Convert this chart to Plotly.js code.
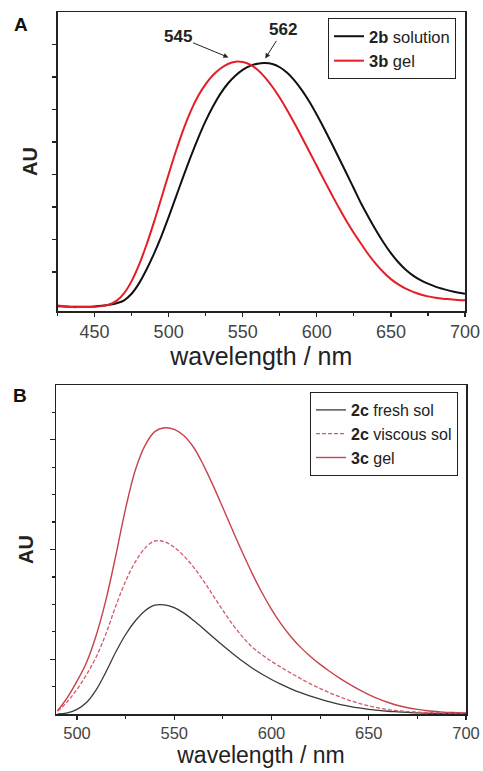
<!DOCTYPE html>
<html>
<head>
<meta charset="utf-8">
<script src="https://cdn.plot.ly/plotly-3.0.1.min.js"></script>
<style>html,body{margin:0;padding:0;background:#fff;}#chart{width:483px;height:771px;}</style>
</head>
<body>
<div id="chart"></div>
<script>
// ---- Panel A data (wavelength in nm, intensity in arbitrary units) ----
const wlA = [425,430,435,440,445,450,455,460,465,470,475,480,485,490,495,500,505,510,515,520,525,530,535,540,545,550,555,560,565,570,575,580,585,590,595,600,605,610,615,620,625,630,635,640,645,650,655,660,665,670,675,680,685,690,695,700];
const solution2b = [-0.05,-0.06,-0.07,-0.07,-0.07,-0.06,-0.04,-0.01,0.04,0.13,0.33,0.65,1.07,1.55,2.09,2.69,3.32,3.95,4.56,5.13,5.65,6.10,6.49,6.80,7.04,7.22,7.34,7.41,7.43,7.40,7.30,7.13,6.89,6.59,6.24,5.84,5.41,4.96,4.50,4.04,3.57,3.10,2.68,2.28,1.91,1.58,1.30,1.07,0.89,0.75,0.64,0.55,0.48,0.42,0.37,0.33];
const gel3b = [-0.03,-0.06,-0.08,-0.08,-0.08,-0.07,-0.05,0.0,0.12,0.35,0.72,1.22,1.83,2.52,3.26,4.01,4.73,5.39,5.96,6.42,6.78,7.06,7.26,7.40,7.47,7.46,7.38,7.22,6.99,6.70,6.36,5.98,5.57,5.14,4.70,4.26,3.82,3.39,2.97,2.57,2.20,1.86,1.53,1.24,0.99,0.78,0.62,0.49,0.39,0.31,0.25,0.21,0.18,0.16,0.14,0.13];
const namesA = ['<b>2b</b> solution','<b>3b</b> gel'];
const ticksA = [450,500,550,600,650,700];
const peakLabels = ['545','562'];
const peakWl = [541.6,564.5];
const peakVal = [7.58,7.52];
const labelWl = [506.0,577.4];
const labelVal = [8.25,8.45];

// ---- Panel B data ----
const wlB = [490,495,500,505,510,515,520,525,530,535,540,545,550,555,560,565,570,575,580,585,590,595,600,605,610,615,620,625,630,635,640,645,650,655,660,665,670,675,680,685,690,695,700];
const fresh2c = [0.0,0.04,0.17,0.43,0.9,1.55,2.27,2.9,3.4,3.77,3.97,3.98,3.88,3.68,3.41,3.11,2.8,2.5,2.21,1.93,1.68,1.46,1.26,1.08,0.92,0.78,0.65,0.54,0.44,0.35,0.28,0.22,0.17,0.13,0.1,0.08,0.06,0.04,0.03,0.02,0.02,0.01,0.01];
const viscous2c = [0.1,0.45,0.9,1.45,2.1,2.95,3.95,4.85,5.55,6.05,6.31,6.28,6.08,5.76,5.35,4.86,4.32,3.78,3.27,2.82,2.45,2.17,1.92,1.7,1.49,1.29,1.1,0.93,0.77,0.63,0.5,0.39,0.3,0.22,0.16,0.12,0.09,0.07,0.05,0.04,0.03,0.02,0.02];
const gel3c = [0.12,0.6,1.2,1.9,2.9,4.2,5.8,7.5,8.9,9.8,10.3,10.44,10.38,10.15,9.72,9.08,8.33,7.52,6.70,5.90,5.14,4.44,3.82,3.28,2.82,2.43,2.10,1.81,1.55,1.31,1.09,0.89,0.71,0.55,0.42,0.31,0.23,0.17,0.12,0.09,0.06,0.05,0.04];
const namesB = ['<b>2c</b> fresh sol','<b>2c</b> viscous sol','<b>3c</b> gel'];
const ticksB = [500,550,600,650,700];

const FONT = 'Liberation Sans, Arial, sans-serif';
const W = 483, H = 771;
const px = v => v / W;
const py = v => 1 - v / H;

const traces = [
  {x: wlA, y: solution2b, name: namesA[0], type: 'scatter', mode: 'lines', line: {color: '#111111', width: 2, shape: 'spline', smoothing: 1}, xaxis: 'x', yaxis: 'y', legend: 'legend'},
  {x: wlA, y: gel3b, name: namesA[1], type: 'scatter', mode: 'lines', line: {color: '#e31e26', width: 2, shape: 'spline', smoothing: 1}, xaxis: 'x', yaxis: 'y', legend: 'legend'},
  {x: wlB, y: fresh2c, name: namesB[0], type: 'scatter', mode: 'lines', line: {color: '#3a3a3a', width: 1.3, shape: 'spline', smoothing: 1}, xaxis: 'x2', yaxis: 'y2', legend: 'legend2'},
  {x: wlB, y: viscous2c, name: namesB[1], type: 'scatter', mode: 'lines', line: {color: '#d35a68', width: 1.3, dash: '4px,2px', shape: 'spline', smoothing: 1}, xaxis: 'x2', yaxis: 'y2', legend: 'legend2'},
  {x: wlB, y: gel3c, name: namesB[2], type: 'scatter', mode: 'lines', line: {color: '#c8424a', width: 1.4, shape: 'spline', smoothing: 1}, xaxis: 'x2', yaxis: 'y2', legend: 'legend2'}
];

const axisCommon = {
  showline: true, linecolor: '#222', linewidth: 1.5, mirror: true,
  showgrid: false, zeroline: false, ticks: 'outside', tickcolor: '#222', ticklen: 4, tickwidth: 1.2
};

const annotations = [
  {text: '<b>A</b>', xref: 'paper', yref: 'paper', x: px(21), y: py(24), xanchor: 'center', yanchor: 'middle', showarrow: false, font: {family: FONT, size: 19, color: '#111'}},
  {text: '<b>B</b>', xref: 'paper', yref: 'paper', x: px(20), y: py(396), xanchor: 'center', yanchor: 'middle', showarrow: false, font: {family: FONT, size: 19, color: '#111'}}
];
for (let i = 0; i < peakLabels.length; i++) {
  annotations.push({
    text: '<b>' + peakLabels[i] + '</b>', xref: 'x', yref: 'y', x: peakWl[i], y: peakVal[i],
    axref: 'x', ayref: 'y', ax: labelWl[i], ay: labelVal[i],
    showarrow: true, arrowhead: 2, arrowsize: 1, arrowwidth: 1, arrowcolor: '#222', standoff: 2,
    font: {family: FONT, size: 17, color: '#222'}
  });
}

const layout = {
  width: W, height: H,
  margin: {l: 0, r: 0, t: 0, b: 0},
  paper_bgcolor: '#fff', plot_bgcolor: '#fff',
  font: {family: FONT, color: '#333'},
  xaxis: Object.assign({}, axisCommon, {
    domain: [px(57.5), px(465)], anchor: 'y', range: [425, 700], tickvals: ticksA,
    minor: {dtick: 25, tick0: 425, ticks: 'outside', ticklen: 3, tickcolor: '#222'},
    tickfont: {family: FONT, size: 18, color: '#444'},
    title: {text: 'wavelength / nm', font: {family: FONT, size: 25, color: '#222'}, standoff: 0}
  }),
  yaxis: Object.assign({}, axisCommon, {
    domain: [py(311), py(12)], anchor: 'x', range: [-0.2, 9], tickvals: [1,2,3,4,5,6,7,8], showticklabels: false,
    title: {text: '<b>AU</b>', font: {family: FONT, size: 20, color: '#222'}, standoff: 9}
  }),
  xaxis2: Object.assign({}, axisCommon, {
    domain: [px(56), px(466)], anchor: 'y2', range: [489.2, 700], tickvals: ticksB,
    minor: {dtick: 25, tick0: 500, ticks: 'outside', ticklen: 3, tickcolor: '#222'},
    tickfont: {family: FONT, size: 16.5, color: '#444'},
    title: {text: 'wavelength / nm', font: {family: FONT, size: 23, color: '#222'}, standoff: 2}
  }),
  yaxis2: Object.assign({}, axisCommon, {
    domain: [py(714), py(385)], anchor: 'x2', range: [0, 12], tickvals: [2,6,10], showticklabels: false, ticklen: 5,
    minor: {tickvals: [1,3,4,5,7,8,9,11], ticks: 'outside', ticklen: 3, tickcolor: '#222'},
    title: {text: '<b>AU</b>', font: {family: FONT, size: 20, color: '#222'}, standoff: 10}
  }),
  legend: {
    x: px(328), y: py(18), xanchor: 'left', yanchor: 'top', bgcolor: '#fff', bordercolor: '#222', borderwidth: 1,
    font: {family: FONT, size: 16.5, color: '#222'}, itemwidth: 30
  },
  legend2: {
    x: px(310), y: py(392), xanchor: 'left', yanchor: 'top', bgcolor: '#fff', bordercolor: '#222', borderwidth: 1,
    font: {family: FONT, size: 16, color: '#222'}, itemwidth: 30
  },
  annotations: annotations,
  showlegend: true
};

Plotly.newPlot('chart', traces, layout, {displayModeBar: false, staticPlot: true});
</script>
</body>
</html>
